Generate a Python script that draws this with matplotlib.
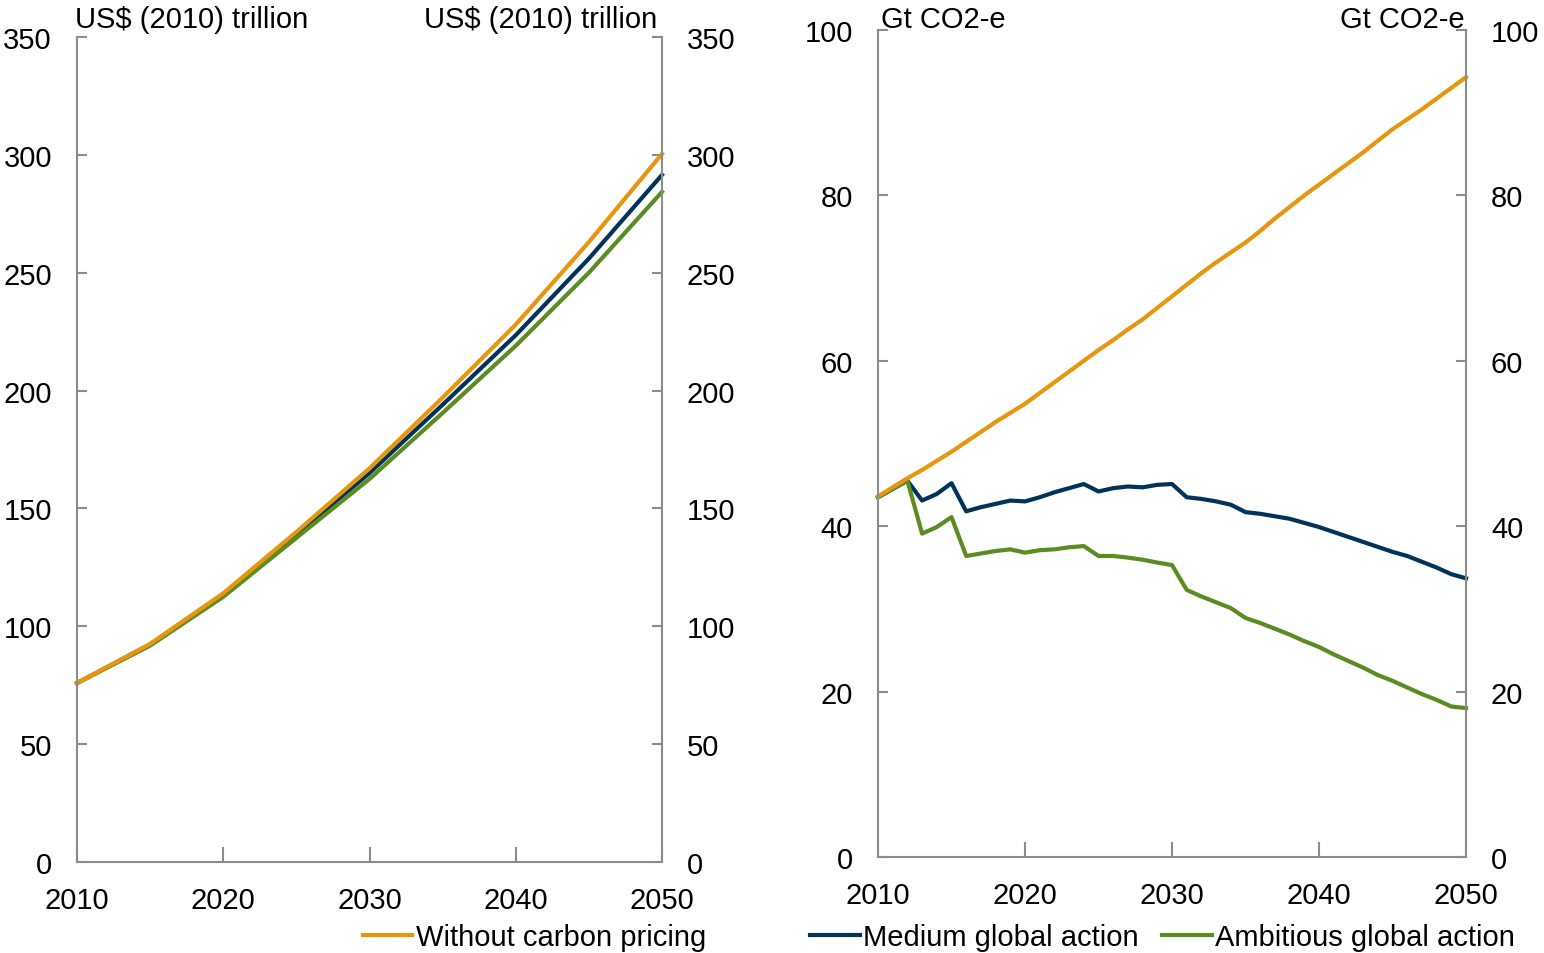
import matplotlib
matplotlib.use("Agg")
import matplotlib.pyplot as plt
from matplotlib.lines import Line2D

plt.rcParams['font.family'] = ['Liberation Sans', 'DejaVu Sans']

# ---- Data ----
gdp_years = [2010, 2015, 2020, 2025, 2030, 2035, 2040, 2045, 2050]
gdp_without = [75.9, 92.5, 114.0, 140.0, 167.0, 197.0, 228.0, 263.0, 300.4]
gdp_medium = [75.9, 92.3, 113.5, 139.0, 165.0, 194.0, 223.5, 256.0, 291.5]
gdp_ambitious = [75.9, 91.8, 112.5, 137.5, 162.5, 190.5, 219.0, 250.0, 284.3]

em_years = list(range(2010, 2051))
em_without = [43.6, 44.7, 45.8, 46.8, 47.9, 49.0, 50.2, 51.4, 52.6, 53.7,
              54.8, 56.1, 57.4, 58.7, 60.0, 61.3, 62.5, 63.8, 65.0, 66.4,
              67.8, 69.2, 70.6, 71.9, 73.1, 74.3, 75.7, 77.2, 78.6, 80.0,
              81.3, 82.6, 83.9, 85.2, 86.6, 88.0, 89.2, 90.4, 91.7, 93.0, 94.3]
em_medium = [43.5, 44.5, 45.5, 43.1, 43.9, 45.2, 41.8, 42.3, 42.7, 43.1,
             43.0, 43.5, 44.1, 44.6, 45.1, 44.2, 44.6, 44.8, 44.7, 45.0,
             45.1, 43.5, 43.3, 43.0, 42.6, 41.7, 41.5, 41.2, 40.9, 40.4,
             39.9, 39.3, 38.7, 38.1, 37.5, 36.9, 36.4, 35.7, 35.0, 34.2, 33.7]
em_ambitious = [43.5, 44.5, 45.5, 39.1, 39.9, 41.1, 36.4, 36.7, 37.0, 37.2,
                36.8, 37.1, 37.2, 37.45, 37.6, 36.4, 36.4, 36.2, 35.95, 35.6,
                35.3, 32.3, 31.5, 30.8, 30.1, 28.9, 28.3, 27.6, 26.9, 26.1,
                25.4, 24.5, 23.7, 22.9, 22.0, 21.3, 20.5, 19.7, 19.0, 18.2, 18.0]

x_ticks = [2010, 2020, 2030, 2040, 2050]
gdp_ticks = [0, 50, 100, 150, 200, 250, 300, 350]
em_ticks = [0, 20, 40, 60, 80, 100]

ORANGE = '#E8960E'
NAVY = '#00335A'
GREEN = '#5B8C21'
GREY = '#8C8C8C'
FS = 21
LW = 3.0

W, H = 1544, 954
fig = plt.figure(figsize=(W / 100, H / 100), dpi=100)

ax1 = fig.add_axes([77 / W, 1 - 863 / H, (662 - 77) / W, (863 - 38) / H])
ax2 = fig.add_axes([878 / W, 1 - 858 / H, (1466 - 878) / W, (858 - 31) / H])


def style(ax, yticks, ymax):
    ax.set_xlim(2010, 2050)
    ax.set_ylim(0, ymax)
    ax.set_xticks(x_ticks)
    ax.set_yticks(yticks)
    ax.spines['top'].set_visible(False)
    for s in ['left', 'right', 'bottom']:
        ax.spines[s].set_color(GREY)
        ax.spines[s].set_linewidth(1.5)
    ax.tick_params(axis='y', which='both', direction='in', length=7, width=1.5,
                   color=GREY, left=True, right=True, labelleft=True,
                   labelright=True, labelsize=FS, pad=18)
    ax.tick_params(axis='x', direction='in', length=11, width=1.5, color=GREY,
                   labelsize=FS, pad=17)


ax1.plot(gdp_years, gdp_medium, color=NAVY, lw=LW)
ax1.plot(gdp_years, gdp_ambitious, color=GREEN, lw=LW)
ax1.plot(gdp_years, gdp_without, color=ORANGE, lw=LW)
style(ax1, gdp_ticks, 350)

ax2.plot(em_years, em_medium, color=NAVY, lw=LW)
ax2.plot(em_years, em_ambitious, color=GREEN, lw=LW)
ax2.plot(em_years, em_without, color=ORANGE, lw=LW)
style(ax2, em_ticks, 100)

for a in (ax1, ax2):
    for line in a.get_lines():
        line.set_clip_on(False)

unit_y = 1 - 28 / H
fig.text(75 / W, unit_y, 'US$ (2010) trillion', ha='left', va='baseline', fontsize=FS)
fig.text(657 / W, unit_y, 'US$ (2010) trillion', ha='right', va='baseline', fontsize=FS)
fig.text(881 / W, unit_y, 'Gt CO2-e', ha='left', va='baseline', fontsize=FS)
fig.text(1465 / W, unit_y, 'Gt CO2-e', ha='right', va='baseline', fontsize=FS)

h_or = Line2D([], [], color=ORANGE, lw=LW)
h_nv = Line2D([], [], color=NAVY, lw=LW)
h_gr = Line2D([], [], color=GREEN, lw=LW)

fig.legend([h_or], ['Without carbon pricing'], loc='center right',
           bbox_to_anchor=(706 / W, 1 - 938 / H), frameon=False, fontsize=FS,
           handlelength=1.7, handletextpad=0.12, borderpad=0, borderaxespad=0)
fig.legend([h_nv, h_gr], ['Medium global action', 'Ambitious global action'],
           loc='center right', ncol=2,
           bbox_to_anchor=(1515 / W, 1 - 938 / H), frameon=False, fontsize=FS,
           handlelength=1.7, handletextpad=0.12, columnspacing=0.8,
           borderpad=0, borderaxespad=0)

fig.savefig('out.png', dpi=100)
